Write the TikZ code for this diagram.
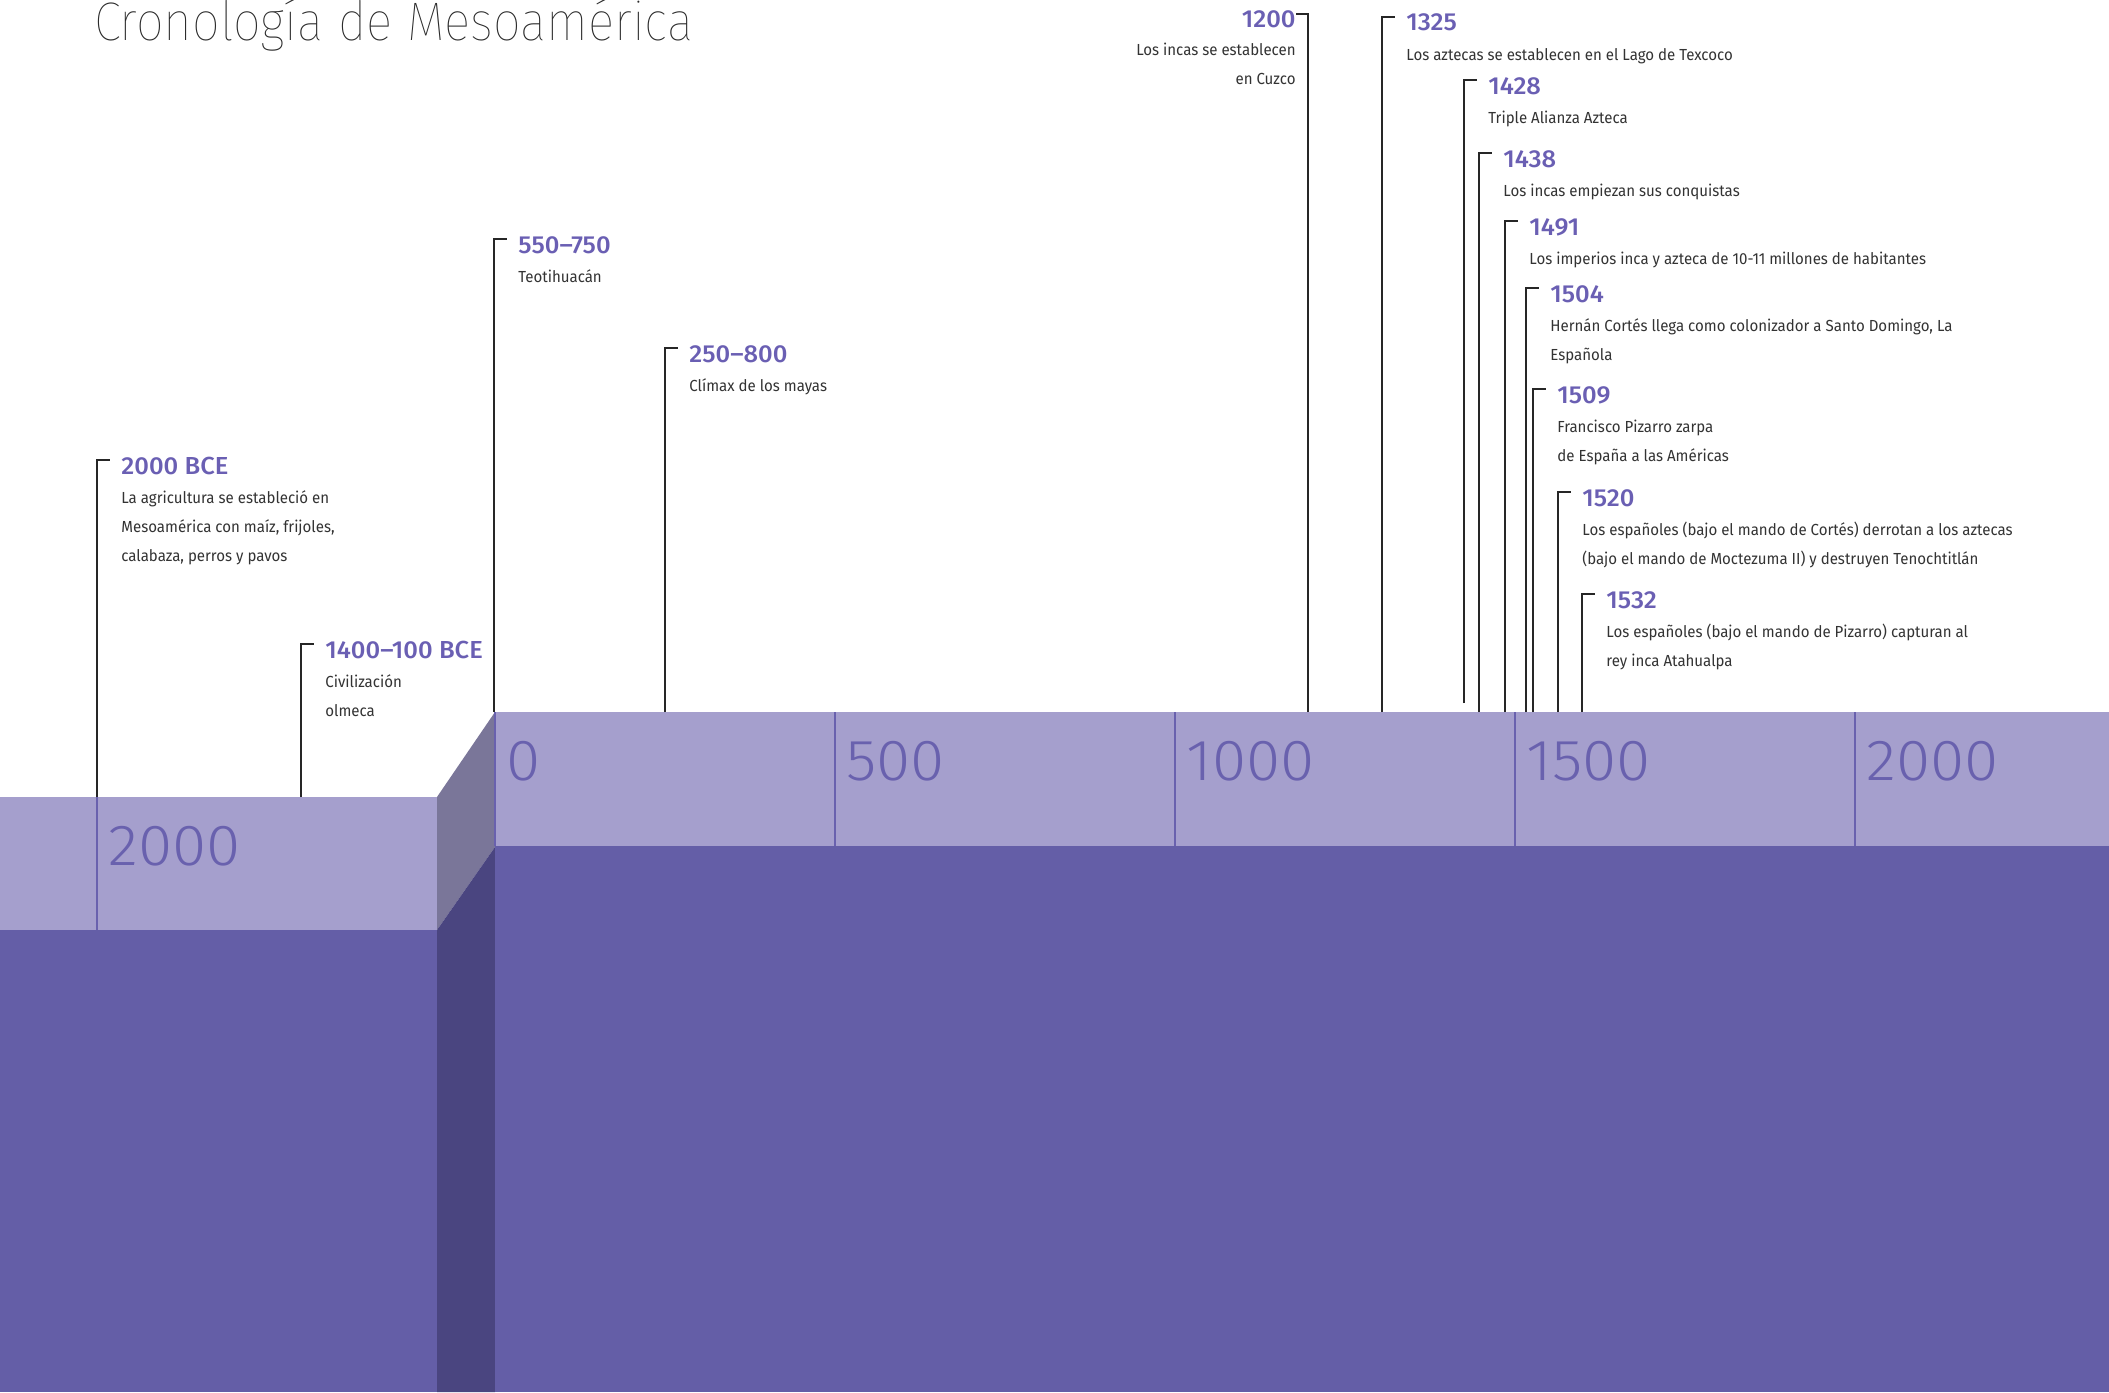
\documentclass[tikz,border=0pt]{standalone}
\usepackage{fontspec}
\setmainfont{Fira Sans}[FakeStretch=0.94]
\IfFontExistsTF{Fira Sans Medium}{\newfontfamily\headfont{Fira Sans Medium}[FakeStretch=1.04]}{\newfontfamily\headfont{Fira Sans}[FakeBold=0.4,FakeStretch=1.04]}
\IfFontExistsTF{Fira Sans Thin}{\newfontfamily\titlefont{Fira Sans Thin}[FakeStretch=0.905]}{\IfFontExistsTF{Fira Sans Light}{\newfontfamily\titlefont{Fira Sans Light}[FakeStretch=0.905]}{\newfontfamily\titlefont{Fira Sans}[FakeStretch=0.905]}}
\IfFontExistsTF{Fira Sans Light}{\newfontfamily\numfont{Fira Sans Light}[FakeStretch=1.07]}{\newfontfamily\numfont{Fira Sans}[FakeStretch=1.07]}
\usetikzlibrary{calc}
\definecolor{bandlight}{HTML}{A59FCD}
\definecolor{banddark}{HTML}{645EA7}
\definecolor{bevelgray}{HTML}{7A7699}
\definecolor{beveldark}{HTML}{4A4580}
\definecolor{tickpurple}{HTML}{6961AE}
\definecolor{headpurple}{HTML}{6A5FB3}
\definecolor{bodygray}{HTML}{333333}
\definecolor{titlegray}{HTML}{2A2A2A}
% name, x, ytop, ybottom, heading, first line
\newcommand\tlevent[6]{%
  \coordinate (#1t) at (#2,#3);
  \coordinate (#1b) at (#2,#4);
  \coordinate (#1h) at ($(#1t)+(13,0)$);
  \draw[evline] (#1b) -- (#1t) -- (#1h);
  \node[head, anchor=base west] (#1y) at ($(#1t)+(24,14)$) {#5};
  \node[body, anchor=base west] (#1l1) at ($(#1t)+(24,43)$) {#6};
}
\begin{document}
\begin{tikzpicture}[x=0.5pt,y=-0.5pt,
  evline/.style={draw=black!85, line width=0.7pt},
  head/.style={font=\headfont\fontsize{12.3}{14}\selectfont, text=headpurple, inner sep=0pt},
  body/.style={font=\fontsize{8}{10}\selectfont, text=bodygray, inner sep=0pt},
  bandnum/.style={font=\numfont\fontsize{29}{30}\selectfont, text=tickpurple, inner sep=0pt, anchor=base west},
  tickline/.style={draw=tickpurple, line width=1pt}]
\useasboundingbox (0,0) rectangle (2109,1392);
\fill[white] (0,0) rectangle (2109,1392);
% bands
\fill[bandlight] (0,797) rectangle (437,930);
\fill[banddark] (0,930) rectangle (437,1392);
\fill[bevelgray] (437,797) -- (495,712) -- (495,847) -- (437,930) -- cycle;
\fill[beveldark] (437,930) -- (495,847) -- (495,1392) -- (437,1392) -- cycle;
\fill[bandlight] (495,712) rectangle (2109,846);
\fill[banddark] (495,846) rectangle (2109,1392);
% ticks
\coordinate (tk0a) at (97,797); \coordinate (tk0b) at (97,930);
\draw[tickline] (tk0a) -- (tk0b);
\node[bandnum] (nL) at (108,865) {2000};
\foreach \i/\lab in {0/0,1/500,2/1000,3/1500,4/2000}{
  \coordinate (tk\i a) at (495+340*\i,712);
  \coordinate (tk\i b) at (495+340*\i,846);
  \draw[tickline] (tk\i a) -- (tk\i b);
  \node[bandnum] (n\i) at (506+340*\i,780) {\lab};
}
% title
\node[font=\titlefont\fontsize{27.2}{30}\selectfont, text=titlegray, anchor=base west, inner sep=0pt] (title) at (94,40) {Cronología de Mesoamérica};
% events
\tlevent{a}{97}{460}{797}{2000 BCE}{La agricultura se estableció en}
\node[body, anchor=base west] (al2) at ($(at)+(24,72)$) {Mesoamérica con maíz, frijoles,};
\node[body, anchor=base west] (al3) at ($(at)+(24,101)$) {calabaza, perros y pavos};
\tlevent{b}{301}{644}{797}{1400–100 BCE}{Civilización}
\node[body, anchor=base west] (bl2) at ($(bt)+(24,72)$) {olmeca};
\tlevent{c}{494}{239}{712}{550–750}{Teotihuacán}
\tlevent{d}{665}{348}{712}{250–800}{Clímax de los mayas}
% 1200 (left-pointing)
\coordinate (et) at (1308,14);
\coordinate (eb) at (1308,712);
\coordinate (eh) at (1296,14);
\draw[evline] (eb) -- (et) -- (eh);
\node[head, anchor=base east] (ey) at (1296,27) {1200};
\node[body, anchor=base east] (el1) at (1296,55) {Los incas se establecen};
\node[body, anchor=base east] (el2) at (1296,84) {en Cuzco};
\tlevent{f}{1382}{17}{712}{1325}{Los aztecas se establecen en el Lago de Texcoco}
\tlevent{g}{1464}{80}{703}{1428}{Triple Alianza Azteca}
\tlevent{h}{1479}{153}{712}{1438}{Los incas empiezan sus conquistas}
\tlevent{i}{1505}{221}{712}{1491}{Los imperios inca y azteca de 10-11 millones de habitantes}
\tlevent{j}{1526}{288}{712}{1504}{Hernán Cortés llega como colonizador a Santo Domingo, La}
\node[body, anchor=base west] (jl2) at ($(jt)+(24,72)$) {Española};
\tlevent{k}{1533}{389}{712}{1509}{Francisco Pizarro zarpa}
\node[body, anchor=base west] (kl2) at ($(kt)+(24,72)$) {de España a las Américas};
\tlevent{l}{1558}{492}{712}{1520}{Los españoles (bajo el mando de Cortés) derrotan a los aztecas}
\node[body, anchor=base west] (ll2) at ($(lt)+(24,72)$) {(bajo el mando de Moctezuma II) y destruyen Tenochtitlán};
\tlevent{m}{1582}{594}{712}{1532}{Los españoles (bajo el mando de Pizarro) capturan al}
\node[body, anchor=base west] (ml2) at ($(mt)+(24,72)$) {rey inca Atahualpa};
\end{tikzpicture}
\end{document}
